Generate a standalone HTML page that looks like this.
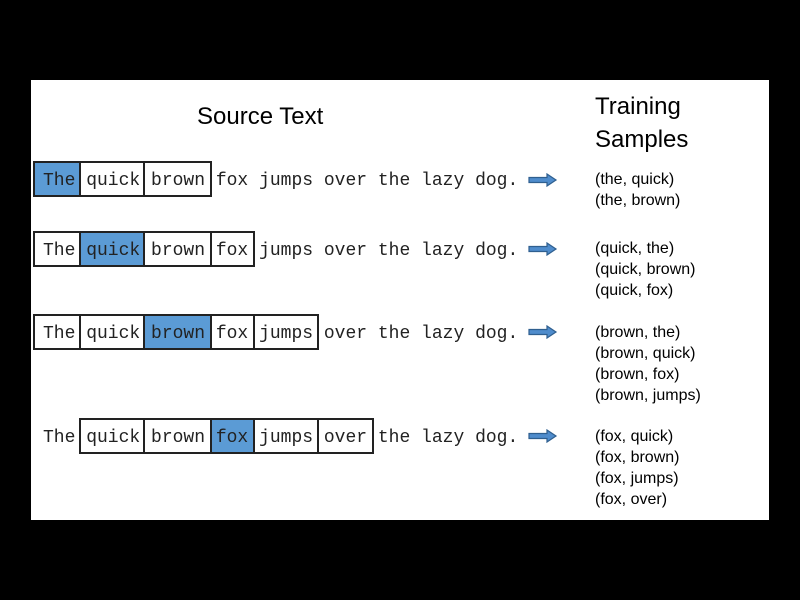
<!DOCTYPE html>
<html><head><style>
body{margin:0;width:800px;height:600px;background:#000;position:relative;overflow:hidden}
.panel{position:absolute;left:31px;top:80px;width:738px;height:440px;background:#fff}
.b{position:absolute;border:2px solid #222;box-sizing:border-box;background:#fff}
.b.f{background:#5b9bd5}
.t{position:absolute;left:43px;font:18px "Liberation Mono",monospace;white-space:pre;color:#222;line-height:20px}
.s{position:absolute;left:595px;font:16px "Liberation Sans",sans-serif;color:#000;line-height:21px}
.h{position:absolute;font:24px "Liberation Sans",sans-serif;color:#000;line-height:33px}
.a{position:absolute;left:528px}
</style></head><body>
<div class="panel"></div>
<div class="h" style="left:197px;top:100px">Source Text</div>
<div class="h" style="left:595px;top:90px">Training<br>Samples</div>

<div class="b f" style="left:33px;top:161px;width:48px;height:36px"></div>
<div class="b" style="left:79px;top:161px;width:66px;height:36px"></div>
<div class="b" style="left:143px;top:161px;width:69px;height:36px"></div>
<div class="t" style="top:171px">The quick brown fox jumps over the lazy dog.</div>

<div class="b" style="left:33px;top:231px;width:48px;height:36px"></div>
<div class="b f" style="left:79px;top:231px;width:66px;height:36px"></div>
<div class="b" style="left:143px;top:231px;width:69px;height:36px"></div>
<div class="b" style="left:210px;top:231px;width:45px;height:36px"></div>
<div class="t" style="top:241px">The quick brown fox jumps over the lazy dog.</div>

<div class="b" style="left:33px;top:314px;width:48px;height:36px"></div>
<div class="b" style="left:79px;top:314px;width:66px;height:36px"></div>
<div class="b f" style="left:143px;top:314px;width:69px;height:36px"></div>
<div class="b" style="left:210px;top:314px;width:45px;height:36px"></div>
<div class="b" style="left:253px;top:314px;width:66px;height:36px"></div>
<div class="t" style="top:324px">The quick brown fox jumps over the lazy dog.</div>

<div class="b" style="left:79px;top:418px;width:66px;height:36px"></div>
<div class="b" style="left:143px;top:418px;width:69px;height:36px"></div>
<div class="b f" style="left:210px;top:418px;width:45px;height:36px"></div>
<div class="b" style="left:253px;top:418px;width:66px;height:36px"></div>
<div class="b" style="left:317px;top:418px;width:57px;height:36px"></div>
<div class="t" style="top:428px">The quick brown fox jumps over the lazy dog.</div>

<svg class="a" style="top:173px" width="30" height="14"><path d="M1 4.5H19V1L28 7 19 13V9.5H1Z" fill="#4f8ccc" stroke="#2f5f8f" stroke-width="1.2"/></svg>
<svg class="a" style="top:242px" width="30" height="14"><path d="M1 4.5H19V1L28 7 19 13V9.5H1Z" fill="#4f8ccc" stroke="#2f5f8f" stroke-width="1.2"/></svg>
<svg class="a" style="top:325px" width="30" height="14"><path d="M1 4.5H19V1L28 7 19 13V9.5H1Z" fill="#4f8ccc" stroke="#2f5f8f" stroke-width="1.2"/></svg>
<svg class="a" style="top:429px" width="30" height="14"><path d="M1 4.5H19V1L28 7 19 13V9.5H1Z" fill="#4f8ccc" stroke="#2f5f8f" stroke-width="1.2"/></svg>

<div class="s" style="top:169px">(the, quick)<br>(the, brown)</div>
<div class="s" style="top:238px">(quick, the)<br>(quick, brown)<br>(quick, fox)</div>
<div class="s" style="top:322px">(brown, the)<br>(brown, quick)<br>(brown, fox)<br>(brown, jumps)</div>
<div class="s" style="top:426px">(fox, quick)<br>(fox, brown)<br>(fox, jumps)<br>(fox, over)</div>
</body></html>
